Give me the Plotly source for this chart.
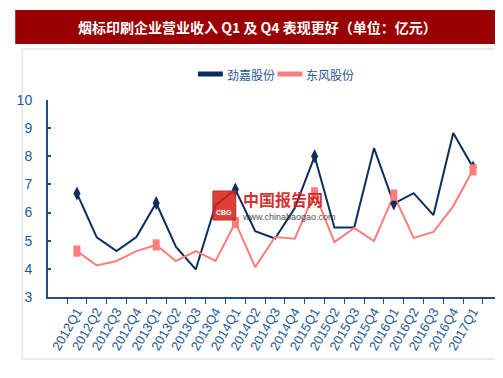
import plotly.graph_objects as go

categories = ["2012Q1","2012Q2","2012Q3","2012Q4","2013Q1","2013Q2","2013Q3","2013Q4",
              "2014Q1","2014Q2","2014Q3","2014Q4","2015Q1","2015Q2","2015Q3","2015Q4",
              "2016Q1","2016Q2","2016Q3","2016Q4","2017Q1"]
jinjia = [6.68, 5.12, 4.63, 5.13, 6.34, 4.78, 3.98, 6.27,
          6.82, 5.34, 5.08, 6.16, 8.0, 5.47, 5.47, 8.29,
          6.32, 6.69, 5.91, 8.83, 7.6]
dongfeng = [4.63, 4.12, 4.28, 4.63, 4.85, 4.28, 4.63, 4.28,
            5.65, 4.06, 5.13, 5.07, 6.7, 4.95, 5.45, 4.99,
            6.62, 5.1, 5.31, 6.23, 7.52]
y_ticks = [3, 4, 5, 6, 7, 8, 9, 10]
series_names = ["劲嘉股份", "东风股份"]

NAVY = "#0B2E5E"
SALMON = "#FF7C7C"
TXT = "#1F5A96"
FONT = "Liberation Sans, Arial, Noto Sans CJK SC, sans-serif"
NARROW = "Liberation Sans Narrow, Arial Narrow, Liberation Sans, sans-serif"
CJK = "Noto Sans CJK SC, sans-serif"

q1_x = [c for c in categories if c.endswith("Q1")]
q1_j = [v for c, v in zip(categories, jinjia) if c.endswith("Q1")]
q1_d = [v for c, v in zip(categories, dongfeng) if c.endswith("Q1")]

fig = go.Figure()
fig.add_trace(go.Scatter(x=categories, y=jinjia, mode="lines", name=series_names[0],
                         showlegend=False, line=dict(color=NAVY, width=2)))
fig.add_trace(go.Scatter(x=categories, y=dongfeng, mode="lines", name=series_names[1],
                         showlegend=False, line=dict(color=SALMON, width=2)))
fig.add_trace(go.Scatter(x=q1_x, y=q1_j, mode="markers", showlegend=False,
                         marker=dict(symbol="diamond-tall", size=10, color=NAVY, opacity=1,
                                     line=dict(width=0))))
fig.add_trace(go.Scatter(x=q1_x, y=q1_d, mode="markers", showlegend=False,
                         marker=dict(symbol="line-ns", size=8, color=SALMON, opacity=1,
                                     line=dict(width=7, color=SALMON))))

W, H = 503, 378
L, R, T, B = 37, 494, 92, 289
pw, ph = R - L, B - T

def px(x):
    return (x - L) / pw

def py(y):
    return (B - y) / ph

shapes = [
    dict(type="rect", xref="paper", yref="paper", x0=px(11), x1=px(498), y0=py(351), y1=py(41),
         line=dict(color="#D9D9D9", width=1), fillcolor="rgba(0,0,0,0)", layer="below"),
    dict(type="rect", xref="paper", yref="paper", x0=px(4), x1=px(497), y0=py(36), y1=py(2),
         line=dict(width=0), fillcolor="#9B0000", layer="below"),
    dict(type="rect", xref="paper", yref="paper", x0=px(203), x1=px(226), y0=py(212), y1=py(183),
         line=dict(color="#B03030", width=1), fillcolor="rgba(215,30,20,0.85)", layer="above"),
    # legend samples
    dict(type="line", xref="paper", yref="paper", x0=px(188), x1=px(213), y0=py(66), y1=py(66),
         line=dict(color=NAVY, width=5)),
    dict(type="line", xref="paper", yref="paper", x0=px(268), x1=px(293), y0=py(66), y1=py(66),
         line=dict(color=SALMON, width=5)),
]

annotations = [
    dict(text="<b>烟标印刷企业营业收入 Q1 及 Q4 表现更好（单位：亿元）</b>", xref="paper", yref="paper",
         x=px(248), y=py(19), showarrow=False, font=dict(family=CJK, size=14, color="white"),
         xanchor="center", yanchor="middle"),
    dict(text=series_names[0], xref="paper", yref="paper", x=px(215), y=py(67),
         showarrow=False, font=dict(family=CJK, size=12, color=TXT),
         xanchor="left", yanchor="middle"),
    dict(text=series_names[1], xref="paper", yref="paper", x=px(295), y=py(67),
         showarrow=False, font=dict(family=CJK, size=12, color=TXT),
         xanchor="left", yanchor="middle"),
    dict(text="<b>中国报告网</b>", xref="paper", yref="paper", x=px(231), y=py(191),
         showarrow=False, font=dict(family=CJK, size=16, color="rgba(210,20,20,0.9)"),
         xanchor="left", yanchor="middle"),
    dict(text="www.chinabaogao.com", xref="paper", yref="paper", x=px(230), y=py(209),
         showarrow=False, font=dict(family=FONT, size=9, color="rgba(40,40,40,0.85)"),
         xanchor="left", yanchor="middle"),
    dict(text="<b>CBG</b>", xref="paper", yref="paper", x=px(214.5), y=py(204),
         showarrow=False, font=dict(family=FONT, size=7, color="white"),
         xanchor="center", yanchor="middle"),
]

fig.update_layout(
    width=W, height=H,
    margin=dict(l=L, r=W - R, t=T, b=H - B),
    paper_bgcolor="white", plot_bgcolor="white",
    showlegend=False,
    shapes=shapes, annotations=annotations,
    font=dict(family=FONT),
)
fig.update_xaxes(
    type="category", showgrid=False, showline=True, linecolor="#1F4E82", linewidth=2,
    ticks="outside", ticklen=5, tickwidth=1, tickcolor="#1F4E82", tickson="boundaries",
    tickangle=-60, tickfont=dict(family=FONT, size=13, color=TXT), zeroline=False,
)
fig.update_yaxes(
    range=[3, 10], tickvals=y_ticks, showgrid=False, showline=True, linecolor="#1F4E82",
    linewidth=2, ticks="inside", ticklen=3, tickwidth=2, tickcolor="#1F4E82",
    tickfont=dict(family=NARROW, size=14, color=TXT), zeroline=False, ticklabelstandoff=11,
)

fig.write_html("out.html")
